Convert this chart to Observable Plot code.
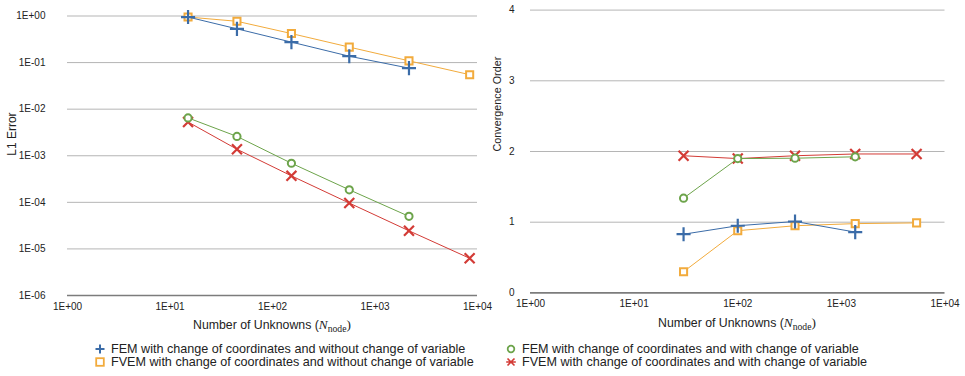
<!DOCTYPE html>
<html>
<head>
<meta charset="utf-8">
<script src="https://cdn.jsdelivr.net/npm/d3@7"></script>
<script src="https://cdn.jsdelivr.net/npm/@observablehq/plot@0.6"></script>
<style>
  html, body { margin: 0; padding: 0; background: #fff; }
  #page { position: relative; width: 965px; height: 376px; overflow: hidden; font-family: "Liberation Sans", Arial, Helvetica, sans-serif; color: #222; }
  #charts { display: flex; flex-direction: row; }
  #legend { position: relative; height: 41px; font-size: 12.6px; }
  .item { position: absolute; white-space: nowrap; line-height: 13px; height: 13px; }
  .item svg { position: absolute; left: -16px; top: 1.5px; overflow: visible; }
</style>
</head>
<body>
<div id="page">
  <div id="charts"></div>
  <div id="legend"></div>
</div>
<script>
// Mesh sizes (number of nodes) and L1 errors
const nodesError = [15, 45, 153, 561, 2145, 8385];
const errFemCoord = [0.95, 0.53, 0.275, 0.137, 0.076];
const errFvemCoord = [0.95, 0.77, 0.42, 0.215, 0.109, 0.055];
const errFemVar = [0.0065, 0.0026, 0.00069, 0.000186, 0.00005];
const errFvemVar = [0.0053, 0.00138, 0.00037, 0.0000965, 0.0000245, 0.0000063];

// Convergence orders between successive meshes
const nodesOrder = [30, 100, 357, 1360, 5320];
const ordFemCoord = [0.83, 0.95, 1.01, 0.86];
const ordFvemCoord = [0.30, 0.88, 0.95, 0.98, 0.99];
const ordFemVar = [1.34, 1.90, 1.905, 1.925];
const ordFvemVar = [1.94, 1.90, 1.94, 1.965, 1.965];

// Series names, in legend order
const seriesNames = [
  "FEM with change of coordinates and without change of variable",
  "FVEM with change of coordinates and without change of variable",
  "FEM with change of coordinates and with change of variable",
  "FVEM with change of coordinates and with change of variable"
];
const seriesColors = ["#3b6ca8", "#f2ab3c", "#6da44b", "#d33b36"];

// Axis ticks and their labels
const xTicks = [1, 10, 100, 1000, 10000];
const xTickLabels = ["1E+00", "1E+01", "1E+02", "1E+03", "1E+04"];
const errTicks = [1, 0.1, 0.01, 0.001, 0.0001, 0.00001, 0.000001];
const errTickLabels = ["1E+00", "1E-01", "1E-02", "1E-03", "1E-04", "1E-05", "1E-06"];
const orderTicks = [0, 1, 2, 3, 4];
const orderTickLabels = ["0", "1", "2", "3", "4"];

const yTitleError = "L1 Error";
const yTitleOrder = "Convergence Order";

const SANS = "Liberation Sans, Arial, Helvetica, sans-serif";
const SERIF = "Liberation Serif, Times New Roman, serif";

function rowsOf(xs, ys, s) {
  return ys.map((v, i) => ({n: xs[i], v, s}));
}

// One line + marker pair per series; squares below plus signs, circles above crosses
function seriesMarks(sets) {
  const style = [
    {symbol: "plus", r: 4.6, fill: "none", strokeWidth: 2.2},
    {symbol: "square", r: 4, fill: "white", strokeWidth: 2},
    {symbol: "circle", r: 3.6, fill: "white", strokeWidth: 2},
    {symbol: "times", r: 4.6, fill: "none", strokeWidth: 2.2}
  ];
  const order = [1, 0, 3, 2];
  return order.flatMap(k => [
    Plot.line(sets[k], {x: "n", y: "v", stroke: seriesColors[k], strokeWidth: 1}),
    Plot.dot(sets[k], {x: "n", y: "v", stroke: seriesColors[k], ...style[k]})
  ]);
}

function addXTitle(svg, cx, baseline) {
  const t = d3.select(svg).append("text")
    .attr("x", cx).attr("y", baseline)
    .attr("text-anchor", "middle")
    .attr("font-family", SANS).attr("font-size", 12.3).attr("fill", "#222");
  t.append("tspan").text("Number of Unknowns (");
  t.append("tspan").attr("font-family", SERIF).attr("font-style", "italic").attr("font-size", 13.3).text("N");
  t.append("tspan").attr("font-family", SERIF).attr("font-size", 9.7).attr("dy", 2.5).text("node");
  t.append("tspan").attr("font-family", SERIF).attr("font-size", 13.3).attr("dy", -2.5).text(")");
}

const errSets = [
  rowsOf(nodesError, errFemCoord, 0),
  rowsOf(nodesError, errFvemCoord, 1),
  rowsOf(nodesError, errFemVar, 2),
  rowsOf(nodesError, errFvemVar, 3)
];
const ordSets = [
  rowsOf(nodesOrder, ordFemCoord, 0),
  rowsOf(nodesOrder, ordFvemCoord, 1),
  rowsOf(nodesOrder, ordFemVar, 2),
  rowsOf(nodesOrder, ordFvemVar, 3)
];

const baseStyle = {fontFamily: SANS, fontSize: "10px", color: "#222", background: "transparent", overflow: "visible"};

const errorChart = Plot.plot({
  width: 482, height: 335,
  marginLeft: 67, marginRight: 5, marginTop: 15.5, marginBottom: 40,
  style: baseStyle,
  x: {type: "log", domain: [1, 10000]},
  y: {type: "log", domain: [0.000001, 1]},
  marks: [
    Plot.ruleY(errTicks.slice(0, -1), {stroke: "#b5b5b5", strokeWidth: 1}),
    Plot.ruleY(errTicks.slice(-1), {stroke: "#7c7c7c", strokeWidth: 1.6}),
    Plot.axisX({ticks: xTicks, tickFormat: d => xTickLabels[xTicks.indexOf(d)], tickSize: 0, tickPadding: 7, fontSize: 10, label: null}),
    Plot.axisY({ticks: errTicks, tickFormat: d => errTickLabels[errTicks.indexOf(d)], tickSize: 0, tickPadding: 22, fontSize: 10, label: null}),
    ...seriesMarks(errSets),
    Plot.text([yTitleError], {frameAnchor: "left", rotate: -90, dx: -55, fontSize: 12})
  ]
});
addXTitle(errorChart, 272, 329);

const orderChart = Plot.plot({
  width: 483, height: 335,
  marginLeft: 48, marginRight: 20.5, marginTop: 9.6, marginBottom: 42.6,
  style: baseStyle,
  x: {type: "log", domain: [1, 10000]},
  y: {domain: [0, 4]},
  marks: [
    Plot.ruleY(orderTicks.slice(1), {stroke: "#b5b5b5", strokeWidth: 1}),
    Plot.ruleY(orderTicks.slice(0, 1), {stroke: "#7c7c7c", strokeWidth: 1.6}),
    Plot.axisX({ticks: xTicks, tickFormat: d => xTickLabels[xTicks.indexOf(d)], tickSize: 0, tickPadding: 7, fontSize: 10, label: null}),
    Plot.axisY({ticks: orderTicks, tickFormat: d => orderTickLabels[orderTicks.indexOf(d)], tickSize: 0, tickPadding: 16, fontSize: 10, label: null}),
    ...seriesMarks(ordSets),
    Plot.text([yTitleOrder], {frameAnchor: "left", rotate: -90, dx: -33, fontSize: 10.8})
  ]
});
addXTitle(orderChart, 255, 327);

document.getElementById("charts").append(errorChart, orderChart);

// Legend: two columns, two rows
const legendMarkers = [
  `<path d="M-4.5,0H4.5M0,-4.5V4.5" stroke="${seriesColors[0]}" stroke-width="2" fill="none"/>`,
  `<rect x="-3.8" y="-3.8" width="7.6" height="7.6" stroke="${seriesColors[1]}" stroke-width="1.8" fill="white"/>`,
  `<circle r="3.3" stroke="${seriesColors[2]}" stroke-width="1.8" fill="white"/>`,
  `<path d="M-3.5,-3.5L3.5,3.5M-3.5,3.5L3.5,-3.5M-4.8,0H4.8" stroke="${seriesColors[3]}" stroke-width="1.6" fill="none"/>`
];
const legendPos = [
  {left: 111, top: 7.5}, {left: 111, top: 20.5},
  {left: 522, top: 7.5}, {left: 522, top: 20.5}
];
const legend = document.getElementById("legend");
seriesNames.forEach((name, i) => {
  const d = document.createElement("div");
  d.className = "item";
  d.style.left = legendPos[i].left + "px";
  d.style.top = legendPos[i].top + "px";
  d.innerHTML = `<svg width="10" height="10" viewBox="-5 -5 10 10">${legendMarkers[i]}</svg>${name}`;
  legend.append(d);
});
</script>
</body>
</html>
